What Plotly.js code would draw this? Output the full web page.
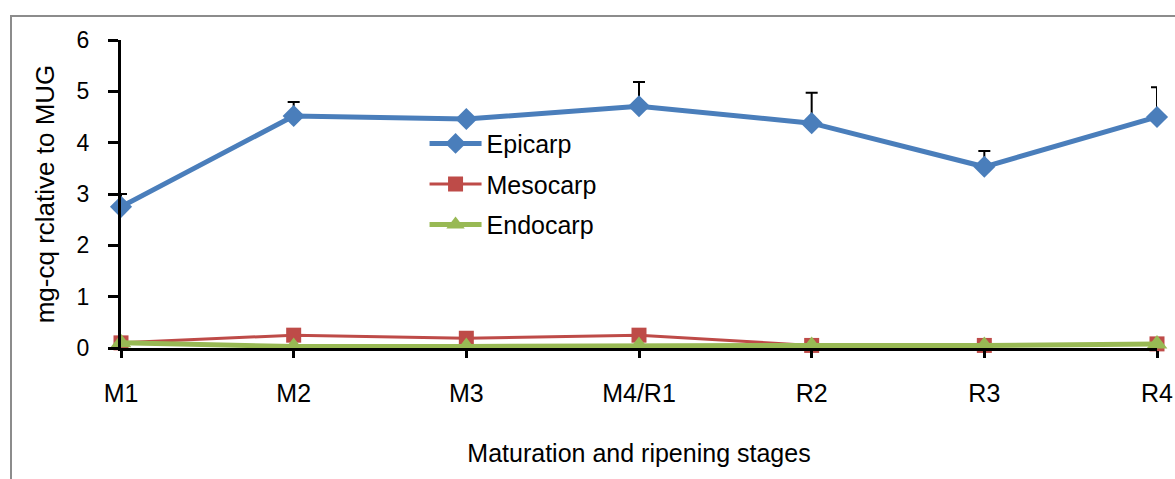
<!DOCTYPE html>
<html>
<head>
<meta charset="utf-8">
<script src="https://cdn.plot.ly/plotly-3.0.1.min.js"></script>
<style>
  html, body { margin: 0; padding: 0; background: #ffffff; }
  #wrap { position: relative; width: 1175px; height: 479px; overflow: hidden; }
  #frame { position: absolute; left: 10px; top: 15px; width: 1200px; height: 500px;
           border: 2px solid #8c8c8c; box-sizing: border-box; }
  #chart { position: absolute; left: 0; top: 0; width: 1175px; height: 479px; }
</style>
</head>
<body>
<div id="wrap">
  <div id="frame"></div>
  <div id="chart"></div>
</div>
<script>
const stages = ["M1", "M2", "M3", "M4/R1", "R2", "R3", "R4"];
const epicarp = [2.75, 4.52, 4.46, 4.71, 4.38, 3.53, 4.50];
const epicarpErr = [0.25, 0.27, 0.0, 0.47, 0.59, 0.31, 0.58];
const mesocarp = [0.10, 0.25, 0.19, 0.25, 0.05, 0.05, 0.08];
const endocarp = [0.10, 0.03, 0.03, 0.05, 0.05, 0.05, 0.08];
const yTicks = [0, 1, 2, 3, 4, 5, 6];

const FONT = '"Liberation Sans", Arial, sans-serif';
const zeros = stages.map(() => 0);

const traces = [
  {
    x: stages, y: epicarp, name: "Epicarp", type: "scatter", mode: "lines+markers",
    legendgroup: "a",
    line: { color: "#4a7ebb", width: 5 },
    marker: { symbol: "diamond", size: 17, color: "#4a7ebb" },
    error_y: { type: "data", symmetric: false, array: epicarpErr, arrayminus: zeros,
               color: "#000000", thickness: 2, width: 6 },
    cliponaxis: false
  },
  {
    x: stages, y: mesocarp, name: "Mesocarp", type: "scatter", mode: "lines+markers",
    legendgroup: "b",
    line: { color: "#be4b48", width: 3 },
    marker: { symbol: "square", size: 15, color: "#be4b48" },
    cliponaxis: false
  },
  {
    x: stages, y: endocarp, name: "Endocarp", type: "scatter", mode: "lines+markers",
    legendgroup: "c",
    line: { color: "#98b954", width: 5 },
    marker: { symbol: "triangle-up", size: 18, color: "#98b954" },
    cliponaxis: false
  }
];

const layout = {
  width: 1175, height: 479,
  margin: { l: 121, r: 18, t: 40, b: 131 },
  paper_bgcolor: "rgba(0,0,0,0)",
  plot_bgcolor: "rgba(0,0,0,0)",
  font: { family: FONT, color: "#000000", size: 24 },
  showlegend: true,
  legend: {
    x: 0.293, xanchor: "left", y: 0.738, yanchor: "top",
    bgcolor: "rgba(0,0,0,0)", borderwidth: 0,
    font: { family: FONT, size: 25, color: "#000000" },
    traceorder: "grouped", tracegroupgap: 5, itemwidth: 52
  },
  xaxis: {
    type: "category",
    range: [0, 6],
    showline: true, linecolor: "#000000", linewidth: 3,
    ticks: "outside", ticklen: 7, tickwidth: 3, tickcolor: "#000000",
    showgrid: false, zeroline: false,
    tickfont: { family: FONT, size: 25, color: "#000000" },
    ticklabelstandoff: 14,
    title: { text: "Maturation and ripening stages", font: { family: FONT, size: 25, color: "#000000" }, standoff: 39 }
  },
  yaxis: {
    range: [0, 6],
    tickvals: yTicks, ticktext: yTicks.map(String),
    showline: true, linecolor: "#000000", linewidth: 3,
    ticks: "outside", ticklen: 10, tickwidth: 3, tickcolor: "#000000",
    showgrid: false, zeroline: false,
    tickfont: { family: FONT, size: 23, color: "#000000" },
    ticklabelstandoff: 14,
    title: { text: "mg-cq rclative to MUG", font: { family: FONT, size: 26, color: "#000000" }, standoff: 15 }
  }
};

Plotly.newPlot("chart", traces, layout, { displayModeBar: false, staticPlot: true });
</script>
</body>
</html>
